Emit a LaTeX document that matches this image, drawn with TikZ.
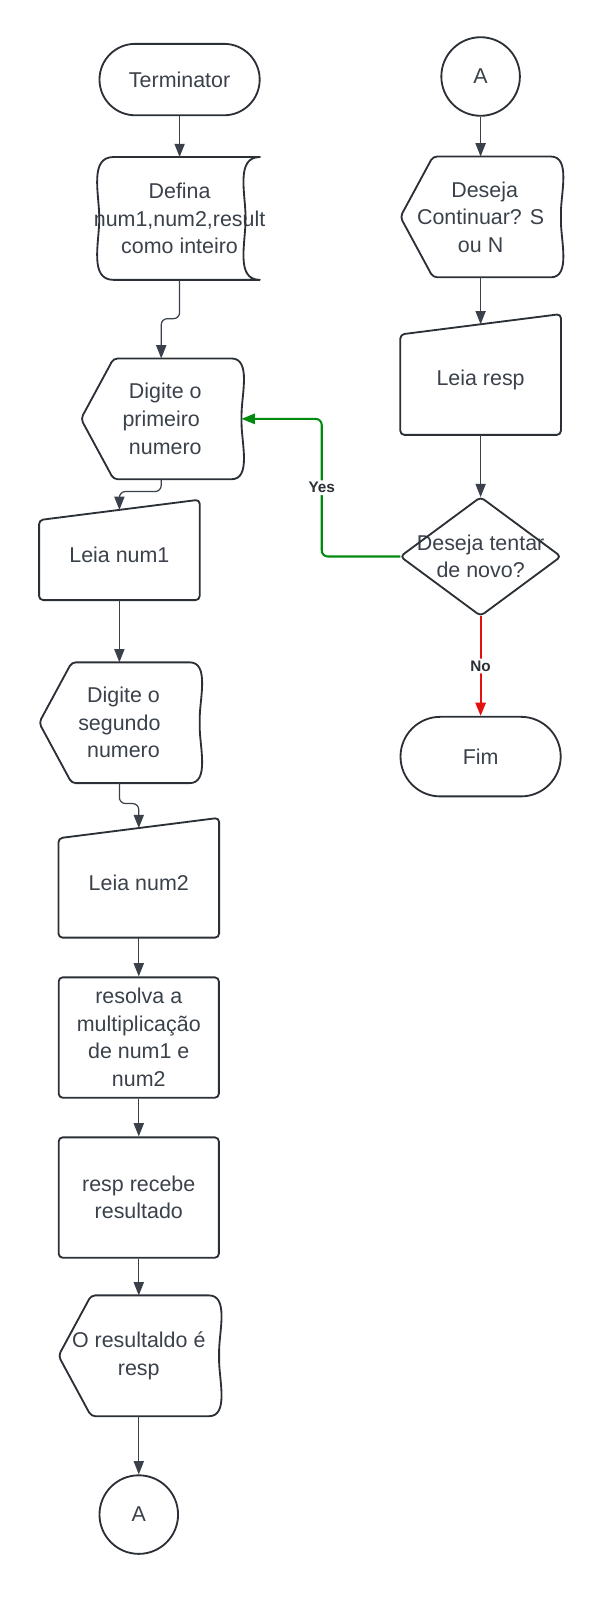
\documentclass[tikz,border=0pt]{standalone}
\usepackage{fontspec}
\setmainfont{Liberation Sans}
\usetikzlibrary{positioning,arrows.meta}

\definecolor{ink}{HTML}{3A414A}
\definecolor{edge}{HTML}{2B2F36}
\definecolor{yesgreen}{HTML}{008A0E}
\definecolor{nored}{HTML}{E51010}

\begin{document}
\begin{tikzpicture}[x=1pt,y=1pt,
  font=\fontsize{21}{27}\selectfont, text=ink,
  box/.style={minimum width=157pt, inner sep=0pt, align=center},
  terminal/.style={box, draw=edge, line width=1.8pt, minimum height=70pt, rounded corners=35pt},
  process/.style={box, draw=edge, line width=1.8pt, minimum height=118pt, rounded corners=4pt},
  link/.style={circle, draw=edge, line width=1.8pt, minimum size=77pt, inner sep=0pt},
  outline/.style={draw=edge, line width=1.8pt, rounded corners=4pt, line join=round},
  flow/.style={draw=ink, line width=1.2pt, rounded corners=6pt, -{Triangle[length=13pt,width=10pt]}},
  yesflow/.style={flow, draw=yesgreen, line width=2pt},
  noflow/.style={flow, draw=nored, line width=2pt},
  tag/.style={font=\bfseries\fontsize{15}{17}\selectfont, fill=white, text=edge, inner sep=2pt}]
 \useasboundingbox (0,0) rectangle (588,1568);
 % left column
 \node[terminal] (start) at (176,1490) {Terminator};
 \node[box, minimum height=120pt, below=40pt of start] (def) {Defina\\\makebox[140pt]{num1,num2,result}\\como inteiro};
 \node[box, minimum height=118pt, below=77pt of def, xshift=-18pt] (dig1) {\hspace*{8pt}Digite o\\primeiro\\\hspace*{8pt}numero};
 \node[box, minimum height=88pt, below=30pt of dig1, xshift=-41pt] (leia1) {Leia num1};
 \node[box, minimum height=118pt, below=61pt of leia1] (dig2) {\hspace*{8pt}Digite o\\segundo\\\hspace*{8pt}numero};
 \node[box, minimum height=107pt, below=44pt of dig2, xshift=19pt] (leia2) {Leia num2};
 \node[process, below=38pt of leia2] (calc) {resolva a\\multiplicação\\de num1 e\\num2};
 \node[process, below=37pt of calc] (recv) {resp recebe\\resultado};
 \node[box, minimum height=118pt, below=36pt of recv] (outp) {O resultaldo é\\resp};
 \node[link, below=57pt of outp] (endA) {A};
 % right column
 \node[link] (startA) at (471,1493) {A};
 \node[box, minimum height=118pt, below=39pt of startA] (ask) {\hspace*{8pt}Deseja\\Continuar? S\\ou N};
 \node[box, minimum height=108pt, below=46pt of ask] (readr) {Leia resp};
 \node[box, minimum height=116pt, below=61pt of readr] (dec) {Deseja tentar\\de novo?};
 \node[terminal, minimum height=78pt, rounded corners=39pt, below=98pt of dec] (fim) {Fim};
 % outlines
 \foreach \n in {dig1,dig2,outp,ask}
  \draw[outline] ([xshift=32pt]\n.north west) -- ([xshift=-14pt]\n.north east) to[out=0,in=90] (\n.east)
   to[out=-90,in=0] ([xshift=-14pt]\n.south east) -- ([xshift=32pt]\n.south west) -- (\n.west) -- cycle;
 \foreach \n in {leia1,leia2,readr}
  \draw[outline] ([yshift=-10pt]\n.north west) -- ([yshift=10pt]\n.north east) -- (\n.south east) -- (\n.south west) -- cycle;
 \draw[outline, sharp corners] ([xshift=14pt]def.north west) -- (def.north east) to[out=180,in=90] ([xshift=-14pt]def.east)
  to[out=-90,in=180] (def.south east) -- ([xshift=14pt]def.south west) to[out=180,in=-90] (def.west)
  to[out=90,in=180] ([xshift=14pt]def.north west) -- cycle;
 \draw[outline] (dec.north) -- (dec.east) -- (dec.south) -- (dec.west) -- cycle;
 % connectors
 \draw[flow] (start) -- (def);
 \draw[flow] (def.south) -- ++(0,-38) -| (dig1.north);
 \draw[flow] (dig1.south) -- ++(0,-12) -| (leia1.north);
 \draw[flow] (leia1) -- (dig2);
 \draw[flow] (dig2.south) -- ++(0,-20) -| (leia2.north);
 \draw[flow] (leia2) -- (calc);
 \draw[flow] (calc) -- (recv);
 \draw[flow] (recv) -- (outp);
 \draw[flow] (outp) -- (endA);
 \draw[flow] (startA) -- (ask);
 \draw[flow] (ask) -- (readr);
 \draw[flow] (readr) -- (dec);
 \draw[yesflow] (dec.west) -- ++(-77,0) |- node[pos=0.25, tag] {Yes} (dig1.east);
 \draw[noflow] (dec) -- node[tag] {No} (fim);
\end{tikzpicture}
\end{document}
